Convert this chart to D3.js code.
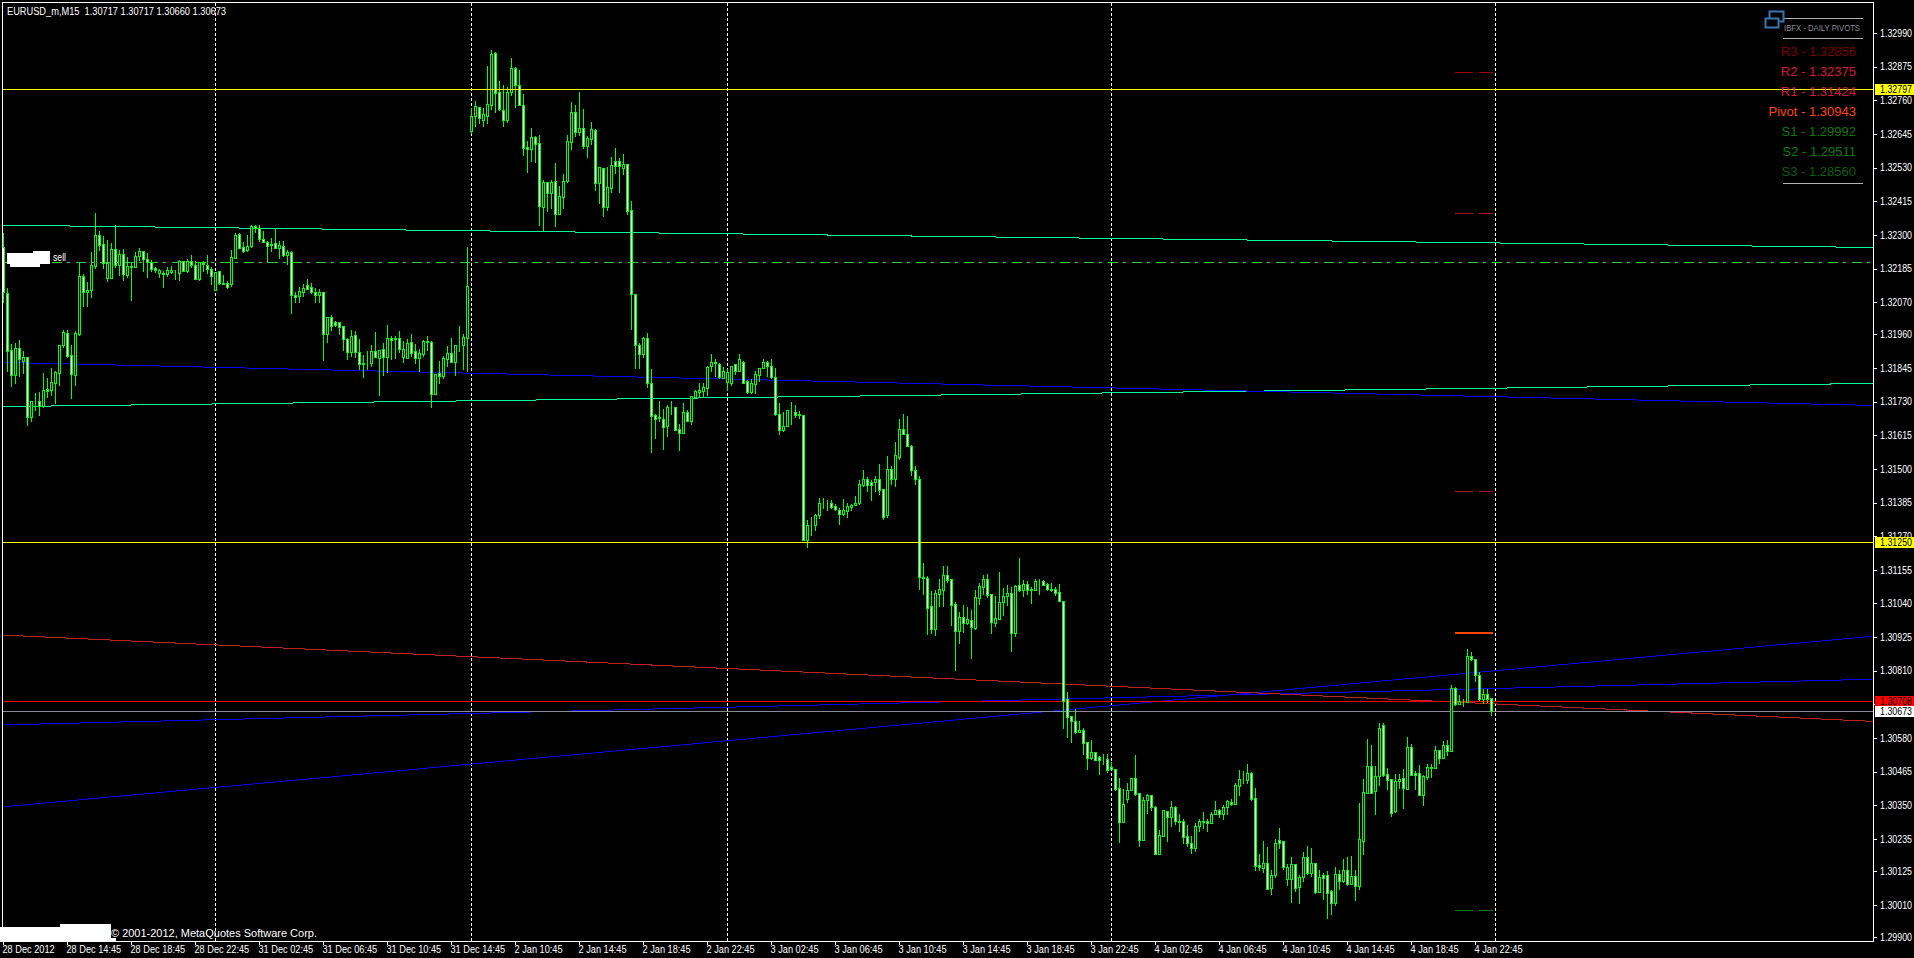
<!DOCTYPE html>
<html>
<head>
<meta charset="utf-8">
<script src="https://cdn.jsdelivr.net/npm/d3@7/dist/d3.min.js"></script>
<style>
html,body{margin:0;padding:0;background:#000;overflow:hidden}
svg{display:block}
text{font-family:"Liberation Sans",sans-serif;font-size:10px;fill:#fff}
</style>
</head>
<body>
<svg id="chart" width="1914" height="958"></svg>
<script>
// Prices are kept as points above this base (1 point = 0.00001)
const BASE_PRICE = 1.299;
const POINT = 0.00001;

const opens = [
2357,2200,2005,1922,2012,1970,1982,1779,1830,1831,
1815,1872,1870,1895,1929,2025,2064,1988,1922,2062,
2258,2203,2213,2295,2398,2368,2254,2254,2351,2298,
2334,2263,2292,2291,2329,2344,2319,2308,2286,2271,
2265,2265,2272,2269,2269,2310,2278,2310,2296,2250,
2305,2296,2283,2213,2275,2234,2234,2233,2322,2402,
2357,2347,2361,2429,2422,2385,2377,2369,2371,2356,
2363,2332,2340,2195,2192,2203,2228,2223,2203,2196,
2204,2062,2118,2101,2101,2087,2045,1998,2057,2001,
1961,1964,1963,2002,1980,2009,1984,2046,2043,2046,
1983,1980,2033,2002,1980,1994,2036,2033,1857,1927,
1918,1977,1995,1966,2025,2025,2046,2756,2807,2836,
2794,2807,2845,3020,2890,2826,2794,2889,2972,2911,
2843,2699,2695,2733,2713,2496,2579,2544,2583,2472,
2530,2583,2718,2819,2753,2764,2705,2729,2758,2578,
2627,2496,2561,2651,2651,2630,2641,2485,2198,2023,
1994,2046,1892,1783,1779,1772,1746,1813,1813,1735,
1723,1796,1764,1846,1863,1867,1877,1952,1964,1960,
1912,1898,1895,1960,1935,1967,1900,1863,1891,1920,
1945,1964,1953,1915,1789,1734,1747,1796,1796,1786,
1783,1358,1408,1408,1442,1482,1485,1482,1473,1461,
1445,1456,1470,1477,1484,1546,1565,1554,1556,1564,
1530,1441,1598,1564,1641,1735,1720,1680,1597,1564,
1229,1226,1130,1054,1171,1187,1236,1223,1137,1047,
1093,1075,1082,1057,1160,1198,1223,1171,1075,1088,
1145,1167,1175,1040,1202,1186,1206,1188,1187,1217,
1216,1206,1191,1188,1178,1147,812,754,737,701,
706,665,613,631,614,613,610,580,573,511,
394,473,503,545,493,332,467,484,446,285,
346,429,411,446,398,395,344,323,305,380,
398,396,391,421,433,421,445,463,455,517,
539,537,562,474,245,237,252,168,211,330,
327,199,199,248,172,204,275,220,252,155,
211,211,156,117,217,191,228,182,207,175,
329,493,586,500,551,723,556,539,429,534,
542,507,648,562,562,486,548,576,578,638,
613,655,637,850,797,803,804,962,949,897,
814,832,817];

const highs = [
2405,2217,2026,2029,2041,2003,1984,1831,1861,1863,
1927,1910,1944,1936,2023,2075,2075,2024,2072,2303,
2266,2240,2343,2474,2413,2396,2382,2371,2434,2348,
2351,2326,2308,2343,2356,2346,2339,2314,2289,2282,
2277,2291,2294,2280,2314,2312,2316,2331,2312,2308,
2312,2331,2291,2273,2277,2263,2242,2348,2405,2408,
2375,2400,2434,2434,2434,2413,2380,2388,2422,2379,
2380,2348,2345,2204,2221,2232,2249,2234,2217,2215,
2204,2118,2126,2106,2103,2087,2046,2075,2072,2043,
1990,2003,2024,2069,2005,2029,2092,2054,2054,2072,
2037,2043,2061,2027,2010,2041,2054,2037,1925,1969,
1986,2020,2048,2024,2089,2061,2359,2833,2857,2836,
2832,2977,3032,3025,2926,2912,2906,3004,2975,2963,
2881,2721,2765,2738,2741,2587,2579,2587,2644,2567,
2608,2741,2854,2844,2888,2830,2738,2786,2762,2631,
2630,2633,2667,2697,2663,2676,2642,2516,2198,2030,
2051,2063,1940,1789,1832,1804,1820,1832,1813,1753,
1824,1801,1850,1871,1893,1893,1951,1994,1975,1963,
1947,1940,1953,1960,1992,1969,1903,1906,1933,1945,
1977,1969,1975,1944,1824,1796,1803,1830,1818,1797,
1784,1425,1434,1445,1499,1502,1493,1493,1480,1465,
1497,1482,1480,1507,1562,1596,1573,1562,1575,1616,
1531,1644,1609,1693,1770,1789,1780,1683,1609,1575,
1278,1234,1183,1186,1224,1268,1268,1223,1145,1111,
1135,1128,1118,1185,1211,1237,1241,1171,1166,1248,
1192,1203,1196,1202,1295,1219,1217,1196,1224,1224,
1219,1211,1210,1198,1207,1147,836,755,778,738,
713,666,673,634,618,625,625,597,573,543,
506,526,545,622,493,479,488,487,447,365,
433,431,465,447,419,402,383,345,388,402,
427,405,428,465,436,450,468,471,525,570,
567,593,565,509,283,327,306,228,334,371,
327,249,275,248,211,289,311,303,254,229,
220,225,160,239,229,266,273,277,229,458,
540,676,656,584,730,730,576,539,557,556,
574,683,658,566,588,553,593,593,652,639,
670,675,861,855,827,813,984,973,949,906,
846,847,817];

const lows = [
2172,1935,1884,1895,1918,1927,1750,1764,1802,1784,
1811,1847,1853,1824,1887,2018,1984,1841,1887,2058,
2157,2157,2187,2287,2348,2288,2242,2251,2291,2263,
2246,2257,2177,2289,2314,2277,2257,2277,2274,2255,
2222,2261,2269,2248,2246,2278,2274,2291,2248,2246,
2277,2271,2232,2210,2232,2232,2220,2225,2322,2354,
2343,2346,2357,2410,2379,2377,2306,2346,2356,2322,
2327,2300,2134,2172,2172,2191,2214,2200,2172,2172,
1972,2035,2075,2088,2061,2007,1976,1987,1982,1942,
1915,1942,1952,1982,1853,1921,1930,1976,1978,2001,
1966,1978,1986,1962,1934,1986,2007,1813,1855,1893,
1912,1952,1964,1921,2004,1942,1935,2749,2772,2783,
2772,2781,2830,2820,2827,2772,2787,2878,2837,2845,
2673,2615,2652,2649,2434,2412,2482,2492,2431,2471,
2492,2579,2693,2738,2741,2697,2666,2712,2553,2509,
2464,2485,2545,2611,2546,2609,2471,2078,1945,1945,
1983,1881,1658,1706,1763,1668,1713,1789,1732,1664,
1723,1763,1754,1846,1846,1846,1852,1934,1917,1911,
1911,1869,1886,1926,1934,1894,1861,1861,1859,1901,
1945,1919,1910,1785,1719,1729,1746,1755,1776,1773,
1357,1333,1374,1391,1431,1467,1459,1468,1459,1411,
1442,1436,1459,1476,1480,1542,1524,1493,1524,1514,
1429,1436,1548,1541,1633,1719,1678,1580,1548,1190,
1172,1036,1040,1032,1131,1133,1215,1067,913,1004,
1044,1070,954,1053,1138,1172,1163,1039,1063,1087,
1101,1136,978,1029,1183,1166,1172,1142,1186,1172,
1202,1187,1182,1170,1149,713,684,667,698,701,
626,574,610,605,557,593,565,573,504,324,
393,462,502,485,311,331,424,434,283,283,
345,328,379,386,362,322,312,287,294,361,
372,363,388,420,410,403,422,451,453,485,
525,528,468,229,229,223,164,147,206,303,
232,177,119,158,116,191,215,209,149,154,
130,65,77,109,164,189,179,181,126,164,
283,492,491,420,519,550,506,413,428,510,
441,506,553,506,485,451,539,547,577,594,
611,622,637,793,796,789,803,946,876,810,
801,802,760];

const closes = [
2203,2004,1922,2012,1975,1982,1779,1831,1829,1815,
1869,1867,1897,1930,2023,2067,1987,1926,2064,2258,
2203,2210,2296,2398,2367,2305,2305,2351,2298,2334,
2267,2292,2291,2327,2344,2319,2308,2285,2279,2279,
2269,2279,2280,2268,2310,2278,2310,2296,2250,2306,
2299,2285,2261,2272,2234,2233,2223,2323,2398,2356,
2346,2361,2429,2422,2385,2377,2363,2364,2356,2364,
2330,2341,2196,2189,2207,2220,2216,2203,2195,2203,
2062,2118,2090,2092,2086,2043,1998,2053,2001,1960,
1960,1965,2002,1984,2005,1984,2046,2042,2046,2011,
2011,2029,1996,1980,1995,2037,2033,1857,1925,1919,
1978,1995,1967,2023,2024,2051,2224,2805,2839,2798,
2812,2846,3018,2886,2831,2794,2890,2972,2911,2845,
2698,2695,2733,2712,2500,2579,2544,2579,2472,2532,
2583,2720,2819,2753,2764,2705,2730,2761,2578,2631,
2496,2562,2638,2636,2634,2641,2483,2198,2025,1994,
2046,1892,1781,1772,1775,1744,1810,1812,1734,1723,
1796,1764,1848,1865,1871,1879,1949,1967,1963,1915,
1936,1932,1953,1935,1974,1895,1863,1892,1923,1945,
1964,1952,1914,1788,1734,1748,1800,1795,1785,1783,
1358,1407,1407,1441,1482,1484,1482,1471,1463,1447,
1458,1473,1478,1485,1550,1564,1546,1546,1564,1529,
1436,1601,1564,1646,1735,1720,1679,1597,1564,1229,
1226,1126,1054,1175,1188,1236,1221,1136,1047,1093,
1075,1086,1061,1161,1199,1223,1170,1078,1089,1144,
1165,1175,1040,1200,1186,1206,1187,1187,1217,1216,
1204,1190,1187,1177,1150,807,753,737,701,709,
664,613,631,606,604,611,572,573,507,394,
455,504,545,490,332,467,484,445,285,347,
433,411,446,396,394,343,322,305,378,398,
394,391,422,433,422,443,465,455,518,539,
540,562,470,244,238,252,165,211,323,323,
240,238,248,168,204,275,220,252,154,204,
203,151,117,217,190,228,182,207,175,334,
494,586,493,549,716,555,537,425,534,539,
510,648,555,555,486,549,580,580,638,613,
655,635,850,797,805,802,962,949,897,814,
832,814,773];

const yTickValues = [1.3299,1.32875,1.3276,1.32645,1.3253,1.32415,1.323,1.32185,1.3207,1.3196,1.31845,1.3173,1.31615,1.315,1.31385,1.3127,1.31155,1.3104,1.30925,1.3081,1.30695,1.3058,1.30465,1.3035,1.30235,1.30125,1.3001,1.299];

const xTickLabels = ["28 Dec 2012","28 Dec 14:45","28 Dec 18:45","28 Dec 22:45","31 Dec 02:45","31 Dec 06:45","31 Dec 10:45","31 Dec 14:45","2 Jan 10:45","2 Jan 14:45","2 Jan 18:45","2 Jan 22:45","3 Jan 02:45","3 Jan 06:45","3 Jan 10:45","3 Jan 14:45","3 Jan 18:45","3 Jan 22:45","4 Jan 02:45","4 Jan 06:45","4 Jan 10:45","4 Jan 14:45","4 Jan 18:45","4 Jan 22:45"];
const xTickEveryBars = 16;

// Period separators, in bar numbers
const periodSeparators = [53,117,181,277,373];

// Last bar number reached by the chart's right edge
const rightEdgeBar = 467.5;

// Sloped channel lines: name, colour, [start price, end price]
const trendNames  = ["upper channel","lower channel","falling blue","rising blue steep","rising blue shallow","falling red"];
const trendStart  = [1.32333,1.31713,1.31864,1.30345,1.30625,1.30932];
const trendEnd    = [1.32257,1.31792,1.31717,1.30928,1.30781,1.30637];
const trendColors = ["#00fa9a","#00fa9a","#0000f0","#0000f0","#0000f0","#c02020"];

// Levels
const yellowLevels = [1.32797,1.3125];
const askLevel = 1.30708;
const bidLevel = 1.30673;
const dashLevel = 1.32206;

// Daily pivot values
const pivotNames  = ["R3","R2","R1","Pivot","S1","S2","S3"];
const pivotValues = [1.32856,1.32375,1.31424,1.30943,1.29992,1.29511,1.2856];
const pivotColors = ["#7b0000","#dc143c","#dc143c","#ff4500","#0b7a0b","#0b7a0b","#0a5f0a"];
const pivotMarkColors = ["#a80000","#b01020","#b01020","#ff4500","#0b7a0b","#0b7a0b","#0a5f0a"];
const pivotMarkFromBar = 363, pivotMarkToBar = 372.5;

const titleText = "EURUSD_m,M15  1.30717 1.30717 1.30660 1.30673";
const copyrightText = "\u00a9 2001-2012, MetaQuotes Software Corp.";

const svg = d3.select("#chart");
const price = p => BASE_PRICE + p * POINT;
const bars = opens.map((o,i)=>({i,o:price(o),h:price(highs[i]),l:price(lows[i]),c:price(closes[i])}));

const x = d3.scaleLinear().domain([0,rightEdgeBar]).range([3,1873]);
const y = d3.scaleLinear().domain([1.299,1.3299]).range([937,33]);
const px = v => Math.round(v)+0.5;
const col = i => Math.round(x(i));

// squeeze a text horizontally to the narrow look of the terminal font
function squeeze(sel, factor){
  sel.each(function(){
    const w = this.getComputedTextLength();
    d3.select(this).attr("textLength",w*factor).attr("lengthAdjust","spacingAndGlyphs");
  });
}
function fitTo(sel, width){
  sel.attr("textLength",width).attr("lengthAdjust","spacingAndGlyphs");
}

svg.append("defs").append("clipPath").attr("id","plot").append("rect")
   .attr("x",3).attr("y",3).attr("width",1870).attr("height",938);

const plot = svg.append("g").attr("clip-path","url(#plot)").attr("shape-rendering","crispEdges");

// separators
plot.selectAll("line.sep").data(periodSeparators).join("line").attr("class","sep")
  .attr("x1",d=>col(d)+0.5).attr("x2",d=>col(d)+0.5).attr("y1",3).attr("y2",941)
  .attr("stroke","#fff").attr("stroke-dasharray","3,2");

// trend lines
const trendLine = d3.line().x(d=>d[0]).y(d=>d[1]);
plot.selectAll("path.trend").data(trendNames).join("path").attr("class","trend")
  .attr("d",(d,k)=>trendLine([[x(0),y(trendStart[k])],[x(rightEdgeBar),y(trendEnd[k])]]))
  .attr("fill","none").attr("stroke",(d,k)=>trendColors[k]).attr("stroke-width",1);

// dash-dot level
plot.append("line").attr("x1",4).attr("x2",1873).attr("y1",px(y(dashLevel))).attr("y2",px(y(dashLevel)))
  .attr("stroke","#32cd32").attr("stroke-dasharray","10,5,3,6");

// ask & bid
plot.append("line").attr("x1",3).attr("x2",1873).attr("y1",px(y(bidLevel))).attr("y2",px(y(bidLevel))).attr("stroke","#8a8a9a");
plot.append("line").attr("x1",3).attr("x2",1873).attr("y1",px(y(askLevel))).attr("y2",px(y(askLevel))).attr("stroke","#f00000");

// pivot marks
const pivotMarks = pivotValues.map((v,i)=>({v,i})).filter(d=>y(d.v)<941);
plot.selectAll("line.pivot").data(pivotMarks).join("line").attr("class","pivot")
  .attr("x1",x(pivotMarkFromBar)).attr("x2",x(pivotMarkToBar))
  .attr("y1",d=>px(y(d.v))).attr("y2",d=>px(y(d.v)))
  .attr("stroke",d=>pivotMarkColors[d.i])
  .attr("stroke-width",d=>pivotNames[d.i]==="Pivot"?2:1)
  .attr("stroke-dasharray",d=>pivotNames[d.i]==="Pivot"?null:"18,6,14");

// candles
const candle = plot.selectAll("g.c").data(bars).join("g").attr("class","c");
candle.append("line")
  .attr("x1",d=>col(d.i)+0.5).attr("x2",d=>col(d.i)+0.5)
  .attr("y1",d=>Math.round(y(d.h))).attr("y2",d=>Math.round(y(d.l))+1)
  .attr("stroke","#00ff00");
candle.append("rect")
  .attr("x",d=>col(d.i)-0.5).attr("width",2)
  .attr("y",d=>px(y(Math.max(d.o,d.c))))
  .attr("height",d=>Math.max(0,Math.round(y(Math.min(d.o,d.c)))-Math.round(y(Math.max(d.o,d.c)))))
  .attr("fill",d=>d.c<d.o?"#fff":"#000")
  .attr("stroke","#00ff00");

// yellow levels
plot.selectAll("line.yl").data(yellowLevels).join("line").attr("class","yl")
  .attr("x1",3).attr("x2",1873).attr("y1",d=>px(y(d))).attr("y2",d=>px(y(d))).attr("stroke","#ffff00");

// frame
svg.append("path").attr("d","M2.5,941V2.5H1873.5V941.5H0").attr("fill","none").attr("stroke","#fff").attr("shape-rendering","crispEdges");

// axes
const yAxis = d3.axisRight(y).tickValues(yTickValues).tickSize(4).tickPadding(3).tickFormat(d=>d.toFixed(5));
const yg = svg.append("g").attr("transform","translate(1873,0)").call(yAxis);
yg.select(".domain").remove();
yg.selectAll("line").attr("stroke","#fff").attr("shape-rendering","crispEdges");
yg.selectAll("text").attr("font-family",null).attr("font-size",null).attr("fill","#fff").style("font-size","10px");
fitTo(yg.selectAll("text"),32);

const tickBars = xTickLabels.map((d,i)=>i*xTickEveryBars);
const xAxis = d3.axisBottom(x).tickValues(tickBars).tickSize(4).tickPadding(1).tickFormat((d,i)=>xTickLabels[i]);
const xg = svg.append("g").attr("transform","translate(0,941)").call(xAxis);
xg.select(".domain").remove();
xg.selectAll("line").attr("stroke","#fff").attr("shape-rendering","crispEdges");
xg.selectAll("text").attr("text-anchor","start").attr("dx",-1).attr("font-family",null).attr("font-size",null).attr("fill","#fff").style("font-size","10px");
squeeze(xg.selectAll("text"),0.92);

// price tags
const tags = [{v:yellowLevels[0],bg:"#ffff00"},{v:yellowLevels[1],bg:"#ffff00"},{v:askLevel,bg:"#ff0000"},{v:bidLevel,bg:"#ffffff"}];
const tag = svg.selectAll("g.tag").data(tags).join("g").attr("class","tag");
tag.append("rect").attr("x",1875).attr("width",39).attr("height",11)
  .attr("y",d=>Math.round(y(d.v))-5).attr("fill",d=>d.bg);
const tagText = tag.append("text").attr("x",1880).attr("y",d=>Math.round(y(d.v))+4).text(d=>d.v.toFixed(5)).style("fill","#000");
fitTo(tagText,32);

// title / copyright
const title = svg.append("text").attr("x",7).attr("y",15).text(titleText).style("white-space","pre");
fitTo(title,219);
const copyright = svg.append("text").attr("x",111).attr("y",937).text(copyrightText);
fitTo(copyright,206);

// redaction blobs
const blobs = [[7,253,43,11],[33,251,17,2],[10,264,30,3],[0,927,105,14],[60,924,51,17],[105,938,11,3]];
svg.selectAll("rect.blob").data(blobs).join("rect").attr("class","blob")
  .attr("x",d=>d[0]).attr("y",d=>d[1]).attr("width",d=>d[2]).attr("height",d=>d[3]).attr("fill","#fff");
fitTo(svg.append("text").attr("x",53).attr("y",261).text("sell"),13);

// pivots panel
const panel = svg.append("g");
panel.selectAll("line").data([18.5,38.5,183.5]).join("line")
  .attr("x1",1783).attr("x2",1863).attr("y1",d=>d).attr("y2",d=>d).attr("stroke","#b0b0b0").attr("shape-rendering","crispEdges");
panel.append("rect").attr("x",1769.5).attr("y",11.5).attr("width",14).attr("height",10).attr("fill","none").attr("stroke","#3a75b0").attr("stroke-width",2);
panel.append("rect").attr("x",1765.5).attr("y",18.5).attr("width",13).attr("height",9).attr("fill","#000").attr("stroke","#3a75b0").attr("stroke-width",2);
const ibfx = panel.append("text").attr("x",1784).attr("y",31).text("IBFX - DAILY PIVOTS").style("font-size","9px").style("fill","#8a8f96");
fitTo(ibfx,76);
panel.selectAll("text.p").data(pivotNames).join("text").attr("class","p")
  .attr("x",1856).attr("y",(d,i)=>56+20*i).attr("text-anchor","end")
  .text((d,i)=>d+" - "+pivotValues[i].toFixed(5))
  .style("fill",(d,i)=>pivotColors[i])
  .style("font-size","13px");
</script>
</body>
</html>
